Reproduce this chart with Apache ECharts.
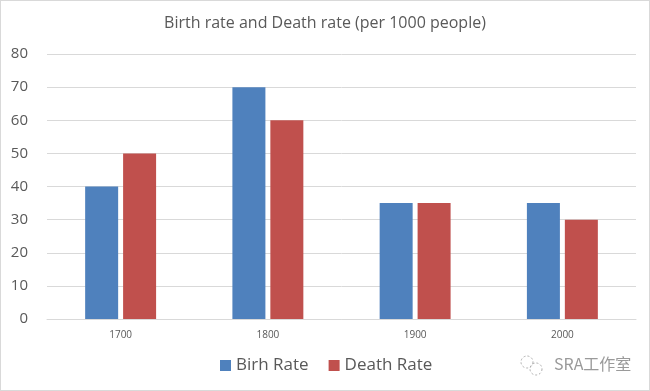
<!DOCTYPE html>
<html><head><meta charset="utf-8">
<script src="https://cdn.jsdelivr.net/npm/echarts@6/dist/echarts.min.js"></script>
<style>html,body{margin:0;padding:0;background:#fff}#c{width:650px;height:391px;box-sizing:border-box;border:1px solid #d9d9d9}</style>
</head><body><div id="c"></div>
<script>
const categories = ['1700', '1800', '1900', '2000'];
const birthRate = [40, 70, 35, 35];
const deathRate = [50, 60, 35, 30];
const seriesNames = ['Birh Rate', 'Death Rate'];
const titleText = 'Birth rate and Death rate (per 1000 people)';

const chart = echarts.init(document.getElementById('c'));
chart.setOption({
  animation: false,
  title: { text: titleText, left: 'center', top: 9,
    textStyle: { fontFamily: 'Open Sans', fontWeight: 'normal', fontSize: 16, color: '#595959' } },
  grid: { left: 46, right: 13, top: 53, bottom: 71 },
  legend: { bottom: 11, left: 214, itemWidth: 11, itemHeight: 11, itemGap: 20, icon: 'rect',
    textStyle: { fontFamily: 'Open Sans', fontSize: 17, color: '#595959' } },
  xAxis: { type: 'category', data: categories,
    axisLine: { lineStyle: { color: '#d9d9d9' } }, axisTick: { show: false },
    axisLabel: { fontFamily: 'Open Sans', fontSize: 10, color: '#595959', margin: 11 } },
  yAxis: { type: 'value', min: 0, max: 80, interval: 10,
    splitLine: { lineStyle: { color: '#d9d9d9' } },
    axisLabel: { fontFamily: 'Open Sans', fontSize: 15, color: '#595959', margin: 19 } },
  series: [
    { name: seriesNames[0], type: 'bar', data: birthRate, barWidth: 33, barGap: '15%', itemStyle: { color: '#4F81BD' } },
    { name: seriesNames[1], type: 'bar', data: deathRate, barWidth: 33, barGap: '15%', itemStyle: { color: '#C0504D' } }
  ],
  graphic: [
    { type: 'text', left: 553, top: 355, style: { text: 'SRA工作室', fontFamily: 'Noto Sans CJK SC', fontSize: 16, fill: '#9a9a9a' } },
    { type: 'circle', shape: { cx: 526, cy: 361, r: 6 }, style: { fill: 'none', stroke: '#aaa', lineWidth: 1, lineDash: [2, 2] } },
    { type: 'circle', shape: { cx: 535, cy: 368, r: 6 }, style: { fill: 'none', stroke: '#aaa', lineWidth: 1, lineDash: [2, 2] } }
  ]
});
</script></body></html>
